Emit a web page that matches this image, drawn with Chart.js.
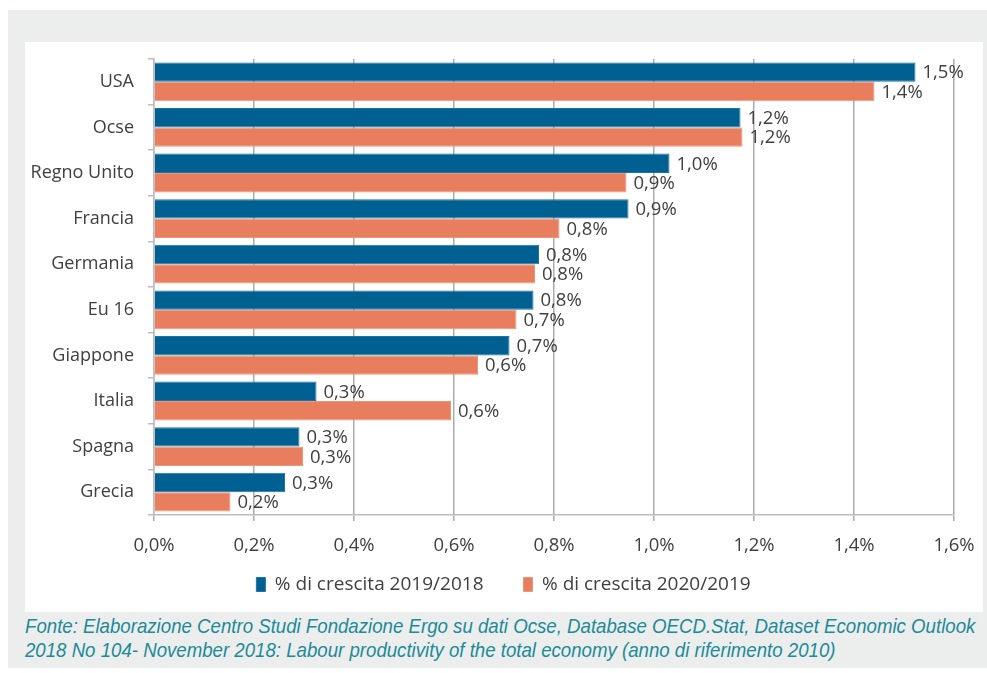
<!DOCTYPE html>
<html>
<head>
<meta charset="utf-8">
<script src="https://cdn.jsdelivr.net/npm/chart.js@4.4.1/dist/chart.umd.min.js"></script>
<style>
  html, body { margin:0; padding:0; background:#fff; }
  #frame { position:absolute; left:8px; top:10px; width:979px; height:658px; background:#eceeed; }
  #panel { position:absolute; left:25px; top:42px; width:958px; height:570px; background:#fff; }
  #bar-chart { position:absolute; left:0; top:0; }
  #fonte { position:absolute; left:25px; top:614px; color:#1d8a98; font-family:"Liberation Sans Narrow","Liberation Sans",Arial,sans-serif;
           font-style:italic; font-size:21px; line-height:24px; white-space:pre; transform-origin:0 0; }
</style>
</head>
<body>
<div id="frame"></div>
<div id="panel"></div>
<div id="fonte">Fonte: Elaborazione Centro Studi Fondazione Ergo su dati Ocse, Database OECD.Stat, Dataset Economic Outlook
2018 No 104- November 2018: Labour productivity of the total economy (anno di riferimento 2010)</div>
<div style="position:absolute; left:25px; top:42px;"><canvas id="bar-chart"></canvas></div>
<script>
// dati
const paesi = ['USA','Ocse','Regno Unito','Francia','Germania','Eu 16','Giappone','Italia','Spagna','Grecia'];
const crescita2019 = [1.523, 1.173, 1.031, 0.949, 0.770, 0.759, 0.711, 0.325, 0.291, 0.262];
const crescita2020 = [1.441, 1.177, 0.945, 0.811, 0.762, 0.725, 0.648, 0.594, 0.298, 0.153];
const tickValori = [0, 0.2, 0.4, 0.6, 0.8, 1.0, 1.2, 1.4, 1.6];

const fmt = v => v.toFixed(1).replace('.', ',') + '%';
const font = '"Open Sans", sans-serif';

// etichette dei valori a fine barra
const etichette = {
  id: 'etichette',
  afterLayout(chart) {
    // legenda più vicina all'asse
    chart.legend.top -= 21;
    chart.legend.bottom -= 21;
    chart.legend.left += 14;
    chart.legend.right += 14;
  },
  afterDatasetsDraw(chart) {
    const ctx = chart.ctx;
    ctx.save();
    ctx.font = '18.5px ' + font;
    ctx.fillStyle = '#404040';
    ctx.textBaseline = 'middle';
    ctx.textAlign = 'left';
    chart.data.datasets.forEach((ds, i) => {
      chart.getDatasetMeta(i).data.forEach((bar, j) => {
        ctx.fillText(fmt(ds.data[j]), bar.x + 7, bar.y + 1);
      });
    });
    ctx.restore();
  }
};

const canvas = document.getElementById('bar-chart');
canvas.width = 958; canvas.height = 583;

new Chart(canvas, {
  type: 'bar',
  data: {
    labels: paesi,
    datasets: [
      { label: '% di crescita 2019/2018', data: crescita2019, backgroundColor: '#006092', borderColor: '#1f73a3', borderWidth: 1 },
      { label: '% di crescita 2020/2019', data: crescita2020, backgroundColor: '#e97e5f', borderColor: '#ee9578', borderWidth: 1 }
    ]
  },
  options: {
    indexAxis: 'y',
    responsive: false,
    animation: false,
    devicePixelRatio: 1,
    layout: { padding: { top: 17, right: 29, bottom: 0, left: 0 } },
    datasets: { bar: { categoryPercentage: 0.85, barPercentage: 1 } },
    scales: {
      x: {
        min: 0, max: 1.6,
        afterBuildTicks: s => { s.ticks = tickValori.map(v => ({ value: v })); },
        afterFit: s => { s.height = 41; s.paddingLeft = 0; s.paddingRight = 0; },
        grid: { color: '#ababab', lineWidth: 1.5, tickLength: 6, drawOnChartArea: true },
        border: { color: '#bdbdbd', width: 1.5 },
        ticks: { color: '#404040', font: { family: font, size: 18.5 }, padding: 14, callback: v => fmt(v) }
      },
      y: {
        afterFit: s => { s.width = 129; s.paddingTop = 0; s.paddingBottom = 0; },
        grid: { drawOnChartArea: false, color: '#bdbdbd', lineWidth: 1.5, tickLength: 6 },
        border: { color: '#bdbdbd', width: 1.5 },
        ticks: { color: '#404040', font: { family: font, size: 18 }, padding: 14 }
      }
    },
    plugins: {
      legend: {
        position: 'bottom',
        labels: { boxWidth: 9, boxHeight: 14, color: '#404040', font: { family: font, size: 19 }, padding: 40 }
      },
      tooltip: { enabled: false }
    }
  },
  plugins: [etichette]
});

// adatta la nota alla larghezza del riquadro
const fonte = document.getElementById('fonte');
const w = fonte.scrollWidth;
fonte.style.transform = 'scaleX(' + (950 / w) + ')';
</script>
</body>
</html>
